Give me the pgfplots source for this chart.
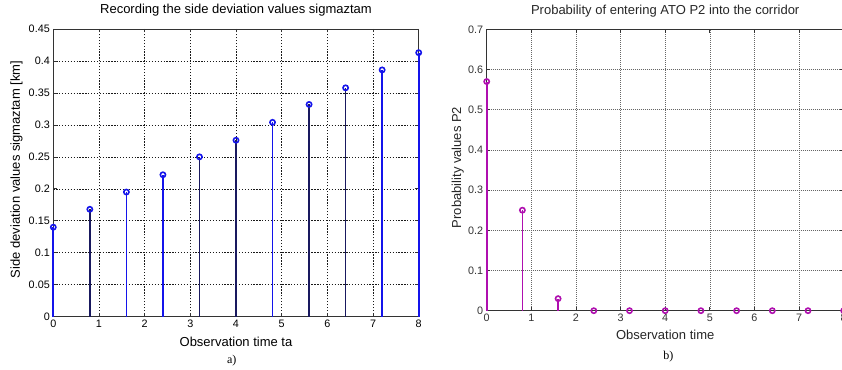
\documentclass[border=0pt]{standalone}
\usepackage{fontspec}
\setmainfont{Liberation Sans}
\newfontfamily\serifont{Liberation Serif}
\usepackage{pgfplots}
\pgfplotsset{compat=1.18}
\definecolor{mblue}{RGB}{20,20,235}
\definecolor{mnavy}{RGB}{25,25,95}
\definecolor{mmag}{RGB}{175,15,175}
\pgfplotsset{mstyle/.style={
  scale only axis, clip=false,
  xmin=0, xmax=8, xtick={0,1,2,3,4,5,6,7,8},
  tick align=inside, major tick length=3.5pt,
  axis line style={black!80, line width=0.8pt},
  every tick/.style={black!80, line width=0.7pt},
  grid=major,
  scaled y ticks=false,
  /pgf/number format/assume math mode=true,
  yticklabel style={/pgf/number format/fixed, /pgf/number format/precision=2},
  tick label style={font=\fontsize{10.8}{12}\selectfont},
  title style={font=\fontsize{13}{15}\selectfont, at={(axis description cs:0.5,1)}, anchor=base},
  label style={font=\fontsize{13}{15}\selectfont},
}}
\begin{document}
\begin{tikzpicture}
\begin{axis}[mstyle, at={(53.3pt,52.3pt)}, anchor=south west,
  width=365.4pt, height=287.7pt,
  ymin=0, ymax=0.45,
  ytick={0,0.05,0.1,0.15,0.2,0.25,0.3,0.35,0.4,0.45},
  major grid style={black!90, dash pattern=on 1.3pt off 1.6pt, line width=0.6pt},
  title={Recording the side deviation values sigmaztam},
  title style={yshift=9.7pt},
  xlabel={Observation time ta},
  xlabel style={at={(axis description cs:0.5,0)}, anchor=base, yshift=-30pt},
  ylabel={Side deviation values sigmaztam [km]},
  ylabel style={at={(axis description cs:-0.1007,0.5117)}, anchor=center},
]
\addplot[ycomb, mblue, line width=1.7pt, mark=o, mark size=2.6pt, mark options={solid, mblue, line width=1.6pt}]
  coordinates {(0,0.140)(1.6,0.195)(2.4,0.222)(4.8,0.304)(7.2,0.386)(8,0.413)};
\addplot[ycomb, mnavy, line width=1.7pt, mark=o, mark size=2.6pt, mark options={solid, mblue, line width=1.6pt}]
  coordinates {(0.8,0.168)(3.2,0.250)(4.0,0.276)(5.6,0.332)(6.4,0.358)};
\end{axis}
\begin{axis}[mstyle, at={(486.7pt,58.3pt)}, anchor=south west,
  width=357pt, height=281.4pt,
  ymin=0, ymax=0.7,
  ytick={0,0.1,0.2,0.3,0.4,0.5,0.6,0.7},
  major grid style={black!60, dash pattern=on 0.8pt off 1.2pt, line width=0.6pt},
  tick label style={text=black!80},
  title={Probability of entering ATO P2 into the corridor},
  title style={yshift=8.6pt, text=black!85},
  xlabel={Observation time},
  xlabel style={at={(axis description cs:0.5,0)}, anchor=base, yshift=-28.6pt, text=black!85},
  ylabel={Probability values P2},
  ylabel style={at={(axis description cs:-0.0812,0.509)}, anchor=center, text=black!85},
]
\addplot[ycomb, mmag, line width=1.7pt, mark=o, mark size=2.6pt, mark options={solid, mmag, line width=1.6pt}]
  coordinates {(0,0.57)(0.8,0.25)(1.6,0.03)(2.4,0)(3.2,0)(4.0,0)(4.8,0)(5.6,0)(6.4,0)(7.2,0)(8,0)};
\end{axis}
\node[anchor=base, font=\serifont\fontsize{12}{14}\selectfont] at (231.7pt,6pt) {a)};
\node[anchor=base, font=\serifont\fontsize{12}{14}\selectfont] at (668.3pt,9.7pt) {b)};
\pgfresetboundingbox
\useasboundingbox (0,0) rectangle (842pt,369pt);
\end{tikzpicture}
\end{document}
